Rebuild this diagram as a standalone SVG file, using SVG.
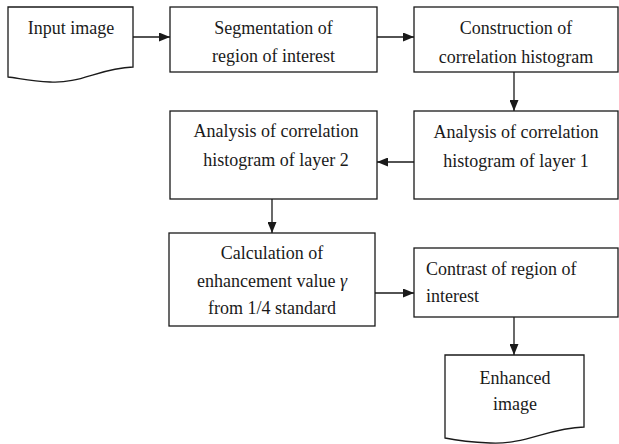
<svg xmlns="http://www.w3.org/2000/svg" width="619" height="444" viewBox="0 0 619 444">
<style>
.box{fill:#fff;stroke:#1a1a1a;stroke-width:1.3}
.t{font-family:'Liberation Serif','Times New Roman',serif;font-size:18px;fill:#1a1a1a;text-anchor:middle}
.l{text-anchor:start}
.c{stroke:#1a1a1a;stroke-width:1.3;fill:none;marker-end:url(#ah)}
</style>
<defs>
<marker id="ah" viewBox="0 0 11 9" refX="11" refY="4.5" markerWidth="11" markerHeight="9" markerUnits="userSpaceOnUse" orient="auto">
<path d="M0,0 L11,4.5 L0,9 Z" fill="#1a1a1a"/>
</marker>
</defs>
<g id="connectors">
<line class="c" x1="133" y1="37" x2="170" y2="37"/>
<line class="c" x1="377" y1="37" x2="414" y2="37"/>
<line class="c" x1="514" y1="72" x2="514" y2="111"/>
<line class="c" x1="414" y1="162" x2="377" y2="162"/>
<line class="c" x1="272" y1="199" x2="272" y2="233"/>
<line class="c" x1="375" y1="293" x2="414" y2="293"/>
<line class="c" x1="514" y1="317" x2="514" y2="355"/>
</g>
<g id="input">
<path class="box" d="M8,7 H133 V67 C100,68 80,84 50,82 C30,81 18,78 8,77 Z"/>
<text class="t" x="71" y="34">Input image</text>
</g>
<g id="segmentation">
<rect class="box" x="170" y="7" width="207" height="65"/>
<text class="t" x="273.5" y="34">Segmentation of</text>
<text class="t" x="273.5" y="62">region of interest</text>
</g>
<g id="construction">
<rect class="box" x="414" y="7" width="204" height="65"/>
<text class="t" x="516" y="34">Construction of</text>
<text class="t" x="516" y="63">correlation histogram</text>
</g>
<g id="layer1">
<rect class="box" x="414" y="111" width="204" height="88"/>
<text class="t" x="516" y="138">Analysis of correlation</text>
<text class="t" x="516" y="167">histogram of layer 1</text>
</g>
<g id="layer2">
<rect class="box" x="170" y="111" width="207" height="88"/>
<text class="t" x="276" y="137">Analysis of correlation</text>
<text class="t" x="276" y="166">histogram of layer 2</text>
</g>
<g id="calculation">
<rect class="box" x="169" y="233" width="206" height="93"/>
<text class="t" x="272" y="259">Calculation of</text>
<text class="t" x="272" y="287">enhancement value <tspan font-style="italic">γ</tspan></text>
<text class="t" x="272" y="314">from 1/4 standard</text>
</g>
<g id="contrast">
<rect class="box" x="414" y="248" width="204" height="69"/>
<text class="t l" x="426" y="275">Contrast of region of</text>
<text class="t l" x="426" y="302">interest</text>
</g>
<g id="enhanced">
<path class="box" d="M445,355 H584 V427 C548,428 525,445 490,443 C468,442 455,440 445,438 Z"/>
<text class="t" x="515" y="384">Enhanced</text>
<text class="t" x="515" y="410">image</text>
</g>
</svg>
